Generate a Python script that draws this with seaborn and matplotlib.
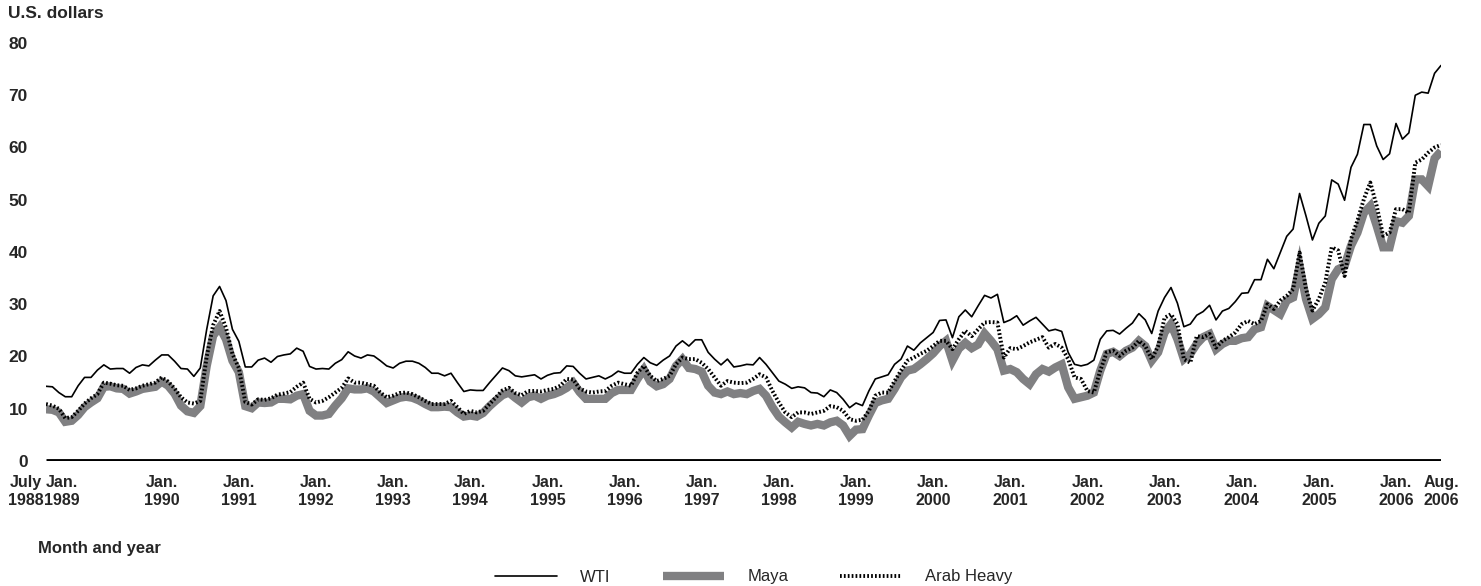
import numpy as np
import pandas as pd
import seaborn as sns
import matplotlib.pyplot as plt
import matplotlib.transforms as mtransforms

# monthly prices, July 1988 - August 2006 (U.S. dollars per barrel)
wti = [
    14.3, 14.2, 13.1, 12.3, 12.3, 14.4,
    16.0, 16.0, 17.4, 18.4, 17.6, 17.7, 17.7, 16.8, 17.9, 18.4, 18.2, 19.3,
    20.3, 20.3, 19.1, 17.7, 17.6, 16.2, 17.8, 25.2, 31.6, 33.4, 30.7, 25.2,
    22.9, 18.0, 18.0, 19.3, 19.7, 18.9, 20.0, 20.3, 20.5, 21.6, 21.0, 18.1,
    17.6, 17.7, 17.6, 18.7, 19.4, 20.9, 20.1, 19.7, 20.3, 20.1, 19.2, 18.2,
    17.8, 18.7, 19.1, 19.1, 18.7, 17.9, 16.8, 16.8, 16.3, 16.8, 15.0, 13.3,
    13.6, 13.5, 13.5, 15.0, 16.4, 17.8, 17.3, 16.3, 16.1, 16.3, 16.5, 15.7,
    16.4, 16.8, 16.9, 18.2, 18.1, 16.8, 15.7, 16.0, 16.3, 15.7, 16.3, 17.2,
    16.8, 16.8, 18.5, 19.8, 18.8, 18.3, 19.3, 20.1, 22.0, 23.0, 22.0, 23.2,
    23.2, 20.8, 19.5, 18.4, 19.5, 18.0, 18.2, 18.5, 18.4, 19.8, 18.5, 16.9,
    15.3, 14.7, 13.9, 14.2, 14.0, 13.1, 13.0, 12.3, 13.6, 13.1, 11.8, 10.2,
    11.1, 10.6, 13.4, 15.7, 16.1, 16.5, 18.5, 19.5, 22.0, 21.2, 22.6, 23.6,
    24.6, 26.9, 27.0, 23.6, 27.6, 28.9, 27.6, 29.7, 31.7, 31.2, 31.9, 26.5,
    27.0, 27.8, 26.0, 26.8, 27.5, 26.2, 24.9, 25.2, 24.8, 20.8, 18.5, 18.2,
    18.5, 19.3, 23.3, 24.9, 25.0, 24.3, 25.4, 26.4, 28.2, 27.0, 24.4, 28.7,
    31.3, 33.2, 30.2, 25.7, 26.2, 27.9, 28.6, 29.8, 27.0, 28.7, 29.2, 30.5,
    32.1, 32.2, 34.7, 34.7, 38.6, 36.8, 39.9, 43.0, 44.4, 51.2, 46.9, 42.3,
    45.5, 46.9, 53.8, 53.0, 49.9, 56.2, 58.7, 64.4, 64.4, 60.3, 57.7, 58.8,
    64.6, 61.6, 62.8, 70.0, 70.6, 70.4, 74.2, 75.7,
]
maya = [
    9.9, 9.8, 9.3, 7.5, 7.7, 8.8,
    10.3, 11.2, 12.0, 14.2, 14.3, 13.9, 13.8, 12.9, 13.3, 13.8, 14.0, 14.2,
    15.2, 14.4, 12.9, 10.6, 9.5, 9.2, 10.5, 18.2, 24.0, 25.6, 23.3, 19.2,
    17.0, 10.5, 10.1, 11.2, 11.1, 11.2, 11.9, 11.9, 11.8, 12.5, 12.8, 9.6,
    8.7, 8.7, 9.0, 10.6, 12.0, 13.9, 13.7, 13.7, 13.9, 13.3, 12.2, 11.1,
    11.6, 12.1, 12.3, 12.1, 11.6, 10.9, 10.3, 10.3, 10.4, 10.3, 9.3, 8.5,
    8.7, 8.5, 9.2, 10.5, 11.6, 12.6, 13.1, 12.1, 11.2, 12.2, 12.5, 11.9,
    12.5, 12.8, 13.3, 14.0, 15.0, 13.2, 11.9, 11.9, 11.9, 11.9, 13.0, 13.6,
    13.6, 13.6, 15.7, 17.5, 15.2, 14.3, 14.7, 15.7, 18.2, 19.5, 17.8, 17.6,
    17.1, 14.4, 13.1, 12.8, 13.3, 12.8, 13.0, 12.8, 13.4, 13.8, 12.5, 10.3,
    8.5, 7.4, 6.4, 7.5, 7.1, 6.8, 7.1, 6.8, 7.4, 7.7, 6.8, 4.8,
    6.0, 6.1, 8.7, 11.1, 11.6, 11.9, 13.8, 16.0, 17.3, 17.6, 18.5, 19.5,
    20.6, 22.0, 23.0, 19.2, 21.5, 22.6, 21.6, 22.3, 24.4, 23.0, 21.4, 17.3,
    17.6, 17.0, 15.7, 14.7, 16.6, 17.6, 17.1, 17.9, 18.5, 14.1, 11.9, 12.2,
    12.5, 13.1, 17.3, 20.5, 20.9, 20.1, 21.1, 21.7, 23.0, 22.0, 19.2, 20.8,
    24.6, 26.2, 23.3, 19.5, 20.5, 22.4, 23.7, 24.3, 21.4, 22.4, 23.0, 23.0,
    23.5, 23.7, 25.2, 25.6, 29.7, 28.9, 28.1, 30.7, 31.3, 37.3, 31.0, 27.2,
    28.1, 29.4, 34.8, 36.7, 37.3, 41.2, 43.7, 47.5, 48.8, 45.0, 40.9, 40.9,
    45.9, 45.6, 46.9, 53.9, 53.9, 52.6, 57.9, 59.3,
]
arab_heavy = [
    10.9, 10.6, 10.0, 8.2, 8.4, 9.6,
    11.0, 12.0, 12.8, 15.0, 14.8, 14.5, 14.4, 13.6, 13.9, 14.4, 14.7, 15.0,
    16.0, 15.2, 13.9, 12.2, 11.2, 11.0, 11.5, 20.0, 26.0, 28.7, 25.5, 20.5,
    17.8, 11.3, 10.8, 11.8, 11.7, 12.0, 12.7, 12.9, 13.2, 14.2, 15.0, 11.9,
    11.2, 11.5, 12.2, 13.1, 14.0, 15.8, 15.0, 15.0, 14.7, 14.4, 13.1, 12.2,
    12.5, 13.0, 13.1, 12.8, 12.2, 11.5, 10.9, 10.9, 10.9, 11.5, 10.3, 9.0,
    9.6, 9.3, 9.6, 10.9, 12.2, 13.5, 14.0, 13.0, 12.6, 13.4, 13.4, 13.3,
    13.6, 13.8, 14.4, 15.7, 15.6, 13.9, 13.3, 13.1, 13.3, 13.4, 14.4, 15.0,
    14.7, 14.4, 16.9, 18.2, 16.3, 15.3, 15.7, 16.3, 18.5, 19.8, 19.5, 19.5,
    18.8, 17.6, 16.0, 14.4, 15.3, 15.0, 14.9, 15.0, 15.7, 16.6, 16.0, 13.4,
    11.2, 9.3, 8.4, 9.3, 9.3, 9.0, 9.3, 9.6, 10.5, 10.3, 9.6, 8.0,
    7.7, 7.9, 9.6, 12.5, 13.1, 13.1, 15.3, 17.3, 19.2, 19.8, 20.5, 21.1,
    22.0, 23.0, 23.0, 21.4, 23.3, 24.9, 23.9, 25.2, 26.5, 26.6, 26.5, 19.8,
    21.6, 21.4, 22.0, 22.7, 23.2, 23.7, 21.7, 22.4, 21.7, 19.5, 16.0, 15.7,
    13.4, 13.1, 17.3, 20.8, 21.1, 20.1, 21.1, 21.7, 23.0, 22.0, 19.5, 22.0,
    27.4, 28.1, 26.2, 19.5, 18.8, 23.9, 23.7, 24.3, 21.7, 23.0, 23.7, 24.6,
    26.2, 26.8, 26.2, 26.8, 30.0, 29.1, 30.7, 31.6, 32.9, 39.9, 32.9, 28.8,
    31.0, 34.2, 40.9, 40.3, 35.4, 42.5, 46.0, 50.1, 53.3, 48.8, 43.1, 43.7,
    48.2, 48.2, 47.5, 57.1, 57.7, 59.0, 60.0, 60.5,
]

tick_labels = ['July\n1988', 'Jan.\n1989'] + \
    [f'Jan.\n{y}' for y in range(1990, 2007)] + ['Aug.\n2006']
y_ticks = list(range(0, 90, 10))

months = pd.period_range('1988-07', '2006-08', freq='M')
df = pd.DataFrame({'month': np.arange(len(months)), 'WTI': wti,
                   'Maya': maya, 'Arab Heavy': arab_heavy})
tick_pos = [i for i, p in enumerate(months) if p.month == 1 or i in (0, len(months) - 1)]

sns.set_style('white')
plt.rcParams['font.family'] = ['Liberation Sans', 'DejaVu Sans']

W, H = 1481, 586
fig = plt.figure(figsize=(W / 100, H / 100), dpi=100)
ax = fig.add_axes([46 / W, 125 / H, (1441 - 46) / W, (461 - 43) / H])

sns.lineplot(data=df, x='month', y='Maya', ax=ax, color='#808082', lw=6,
             label='Maya', solid_joinstyle='miter', solid_capstyle='butt')
sns.lineplot(data=df, x='month', y='Arab Heavy', ax=ax, color='black', lw=2.8,
             label='Arab Heavy', linestyle=(0, (0.45, 0.55)))
sns.lineplot(data=df, x='month', y='WTI', ax=ax, color='black', lw=1.2, label='WTI')
ax.axhline(0, color='black', lw=3.5, solid_capstyle='butt')

ax.set_xlim(0, len(months) - 1)
ax.set_ylim(0, 80)
sns.despine(ax=ax, left=True, bottom=True)
ax.set_xlabel('')
ax.set_ylabel('')
ax.set_yticks(y_ticks)
ax.set_yticklabels([str(v) for v in y_ticks], fontsize=12.5, fontweight='bold')
ax.set_xticks(tick_pos)
ax.set_xticklabels(tick_labels, fontsize=11.5, fontweight='bold', linespacing=1.3)
ax.tick_params(axis='both', length=0)
ax.tick_params(axis='y', pad=13)
ax.tick_params(axis='x', pad=10)

# the first two date labels sit squeezed to the left in the original
for lbl, dx in zip(ax.get_xticklabels()[:2], (-20, -23)):
    lbl.set_transform(lbl.get_transform() + mtransforms.ScaledTranslation(dx / 100, 0, fig.dpi_scale_trans))

fig.text(8 / W, 1 - 13 / H, 'U.S. dollars', fontsize=12.5, fontweight='bold', va='center', ha='left')
fig.text(38 / W, 1 - 548 / H, 'Month and year', fontsize=12, fontweight='bold', va='center', ha='left')

handles, labels = ax.get_legend_handles_labels()
order = [labels.index(n) for n in ('WTI', 'Maya', 'Arab Heavy')]
ax.get_legend().remove()
fig.legend([handles[i] for i in order], [labels[i] for i in order],
           loc='center', bbox_to_anchor=(754 / W, 1 - 577 / H), ncol=3, frameon=False,
           fontsize=12, handlelength=3.7, handletextpad=1.4, columnspacing=3.1)

fig.savefig('out.png', dpi=100)
